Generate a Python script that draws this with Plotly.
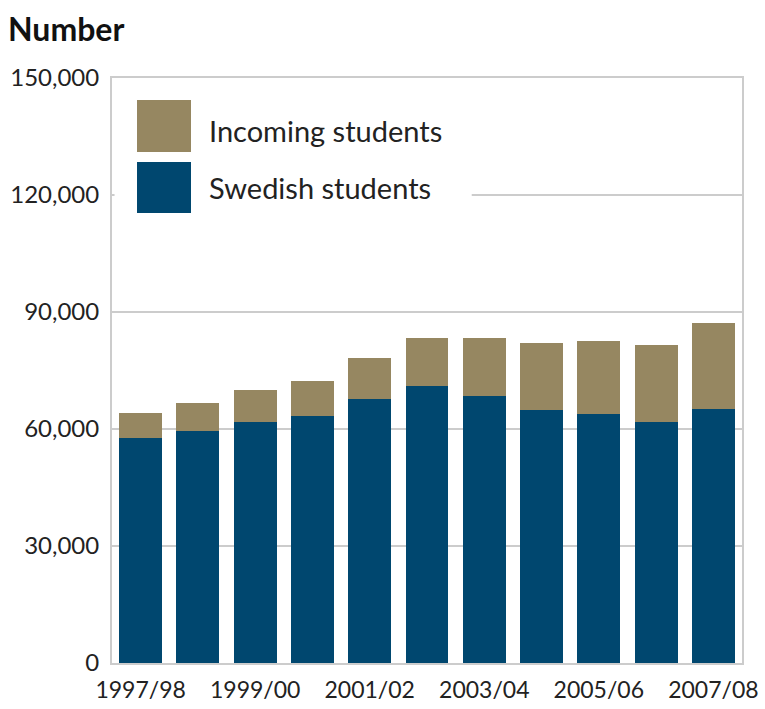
import plotly.graph_objects as go

categories = ["1997/98", "1998/99", "1999/00", "2000/01", "2001/02", "2002/03",
              "2003/04", "2004/05", "2005/06", "2006/07", "2007/08"]
swedish = [57800, 59400, 61800, 63300, 67700, 70900, 68500, 64900, 63800, 61800, 65200]
incoming = [6400, 7200, 8200, 9100, 10400, 12500, 14900, 17100, 18700, 19700, 22100]
tick_labels = ["1997/98", "1999/00", "2001/02", "2003/04", "2005/06", "2007/08"]
y_ticks = [0, 30000, 60000, 90000, 120000, 150000]
series_names = ["Incoming students", "Swedish students"]

col_swe = "#00476F"
col_inc = "#968761"
grid = "#cccccc"
font = "Lato"

fig = go.Figure()
fig.add_trace(go.Bar(x=categories, y=swedish, name=series_names[1],
                     marker=dict(color=col_swe, line=dict(width=0))))
fig.add_trace(go.Bar(x=categories, y=incoming, name=series_names[0],
                     marker=dict(color=col_inc, line=dict(width=0))))

fig.update_layout(
    width=765, height=709,
    margin=dict(l=112, r=23, t=78, b=46),
    barmode="stack", bargap=0.25,
    showlegend=False,
    paper_bgcolor="white", plot_bgcolor="white",
    font=dict(family=font, size=23, color="#222222"),
)
fig.update_xaxes(
    type="category", automargin=False,
    tickmode="array", tickvals=tick_labels, ticktext=tick_labels,
    showgrid=False, showline=True, linecolor=grid, linewidth=2, mirror=True,
    ticks="", ticklabelstandoff=5, tickfont=dict(size=23),
)
fig.update_yaxes(
    range=[0, 150000], tickvals=y_ticks, automargin=False,
    ticktext=[f"{v:,}" for v in y_ticks],
    showgrid=True, gridcolor=grid, gridwidth=2,
    zeroline=False,
    showline=True, linecolor=grid, linewidth=2, mirror=True,
    ticks="", ticklabelstandoff=6, tickfont=dict(size=24),
)

# legend box (hides gridline) and custom large swatches
fig.add_shape(type="rect", xref="paper", yref="paper",
              x0=0.004, x1=0.571, y0=0.75, y1=0.985,
              fillcolor="white", line=dict(width=0), layer="above")
swatches = [(col_inc, 0.8735, 0.9624, 0.9111, series_names[0]),
            (col_swe, 0.7692, 0.8564, 0.812, series_names[1])]
for c, y0, y1, yt, name in swatches:
    fig.add_shape(type="rect", xref="paper", yref="paper",
                  x0=0.0397, x1=0.1254, y0=y0, y1=y1,
                  fillcolor=c, line=dict(width=0), layer="above")
    fig.add_annotation(text=name, xref="paper", yref="paper",
                       x=0.1508, y=yt, xanchor="left", yanchor="middle",
                       showarrow=False, font=dict(size=29, color="#222222"))

fig.add_annotation(text="<b>Number</b>", xref="paper", yref="paper",
                   x=-106 / 630, y=1 + 50 / 585, xanchor="left", yanchor="middle",
                   showarrow=False, font=dict(size=32, color="#111111"))

fig.write_html("out.html")
